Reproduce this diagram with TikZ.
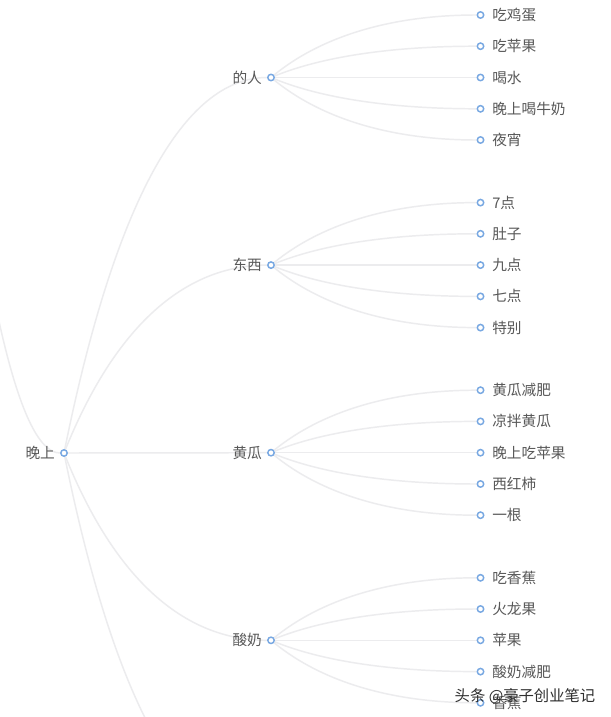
\documentclass[tikz,border=0pt]{standalone}
\usepackage{fontspec}
\setmainfont{Noto Sans CJK SC}
\usetikzlibrary{backgrounds}
\definecolor{linegray}{RGB}{236,236,238}
\definecolor{dotblue}{RGB}{120,168,226}
\definecolor{textgray}{RGB}{88,88,88}
\tikzset{every picture/.style={line width=0.75pt}}
\tikzset{
  dot/.style={circle,draw=dotblue,fill=white,line width=1.1pt,inner sep=0pt,minimum size=4.8pt},
  lab/.style={text=textgray,font=\fontsize{11pt}{13pt}\selectfont,inner sep=0pt},
  labl/.style={lab,xshift=-3.5pt},
  labr/.style={lab,xshift=5.5pt},
  edge/.style={draw=linegray,line width=1.1pt}
}
\begin{document}
\begin{tikzpicture}[x=0.75pt,y=0.75pt,yscale=-1]
\useasboundingbox (0,0) rectangle (610,717);

% root and its four branches
\node[dot,label={[labl]left:晚上}] (wanshang) at (64,453) {};
\node[dot,label={[labl]left:的人}] (deren) at (271,77.5) {};
\node[dot,label={[labl]left:东西}] (dongxi) at (271,265.1) {};
\node[dot,label={[labl]left:黄瓜}] (huanggua) at (271,452.7) {};
\node[dot,label={[labl]left:酸奶}] (suannai) at (271,640.3) {};
% off-page parent and fifth branch
\coordinate (up) at (-144,-1593);
\coordinate (next) at (271,828);

% leaves of 的人
\node[dot,label={[labr]right:吃鸡蛋}] (deren1) at (480.5,15) {};
\node[dot,label={[labr]right:吃苹果}] (deren2) at (480.5,46.2) {};
\node[dot,label={[labr]right:喝水}] (deren3) at (480.5,77.5) {};
\node[dot,label={[labr]right:晚上喝牛奶}] (deren4) at (480.5,108.8) {};
\node[dot,label={[labr]right:夜宵}] (deren5) at (480.5,140) {};
% leaves of 东西
\node[dot,label={[labr]right:7点}] (dongxi1) at (480.5,202.6) {};
\node[dot,label={[labr]right:肚子}] (dongxi2) at (480.5,233.8) {};
\node[dot,label={[labr]right:九点}] (dongxi3) at (480.5,265.1) {};
\node[dot,label={[labr]right:七点}] (dongxi4) at (480.5,296.4) {};
\node[dot,label={[labr]right:特别}] (dongxi5) at (480.5,327.6) {};
% leaves of 黄瓜
\node[dot,label={[labr]right:黄瓜减肥}] (huanggua1) at (480.5,390.2) {};
\node[dot,label={[labr]right:凉拌黄瓜}] (huanggua2) at (480.5,421.4) {};
\node[dot,label={[labr]right:晚上吃苹果}] (huanggua3) at (480.5,452.7) {};
\node[dot,label={[labr]right:西红柿}] (huanggua4) at (480.5,484) {};
\node[dot,label={[labr]right:一根}] (huanggua5) at (480.5,515.2) {};
% leaves of 酸奶
\node[dot,label={[labr]right:吃香蕉}] (suannai1) at (480.5,577.8) {};
\node[dot,label={[labr]right:火龙果}] (suannai2) at (480.5,609) {};
\node[dot,label={[labr]right:苹果}] (suannai3) at (480.5,640.3) {};
\node[dot,label={[labr]right:酸奶减肥}] (suannai4) at (480.5,671.6) {};
\node[dot,label={[labr]right:香蕉}] (suannai5) at (480.5,702.8) {};

% watermark
\node[font=\fontsize{11.5pt}{13pt}\selectfont,text=black!82,inner sep=0pt] (sign) at (525,696) {头条 @豪子创业笔记};

\begin{pgfonlayer}{background}
\fill[white] (0,0) rectangle (610,717);
\clip (0,0) rectangle (610,717);
% root edges
\draw[edge] (up) .. controls (-93.3,-229) and (-24,453) .. (wanshang);
\draw[edge] (wanshang) .. controls (114.7,202.7) and (183.7,77.5) .. (deren);
\draw[edge] (wanshang) .. controls (114.7,327.7) and (183.7,265.1) .. (dongxi);
\draw[edge] (wanshang) -- (huanggua);
\draw[edge] (wanshang) .. controls (114.7,578.5) and (183.7,640.3) .. (suannai);
\draw[edge] (wanshang) .. controls (114.7,703) and (183.7,828) .. (next);
% branch edges
\draw[edge] (deren) .. controls (322.3,35.8) and (392.2,15) .. (deren1);
\draw[edge] (deren) .. controls (322.3,56.6) and (392.2,46.2) .. (deren2);
\draw[edge] (deren) -- (deren3);
\draw[edge] (deren) .. controls (322.3,98.4) and (392.2,108.8) .. (deren4);
\draw[edge] (deren) .. controls (322.3,119.2) and (392.2,140) .. (deren5);
\draw[edge] (dongxi) .. controls (322.3,223.4) and (392.2,202.6) .. (dongxi1);
\draw[edge] (dongxi) .. controls (322.3,244.2) and (392.2,233.8) .. (dongxi2);
\draw[edge] (dongxi) -- (dongxi3);
\draw[edge] (dongxi) .. controls (322.3,286) and (392.2,296.4) .. (dongxi4);
\draw[edge] (dongxi) .. controls (322.3,306.8) and (392.2,327.6) .. (dongxi5);
\draw[edge] (huanggua) .. controls (322.3,411) and (392.2,390.2) .. (huanggua1);
\draw[edge] (huanggua) .. controls (322.3,431.8) and (392.2,421.4) .. (huanggua2);
\draw[edge] (huanggua) -- (huanggua3);
\draw[edge] (huanggua) .. controls (322.3,473.6) and (392.2,484) .. (huanggua4);
\draw[edge] (huanggua) .. controls (322.3,494.4) and (392.2,515.2) .. (huanggua5);
\draw[edge] (suannai) .. controls (322.3,598.6) and (392.2,577.8) .. (suannai1);
\draw[edge] (suannai) .. controls (322.3,619.4) and (392.2,609) .. (suannai2);
\draw[edge] (suannai) -- (suannai3);
\draw[edge] (suannai) .. controls (322.3,661.2) and (392.2,671.6) .. (suannai4);
\draw[edge] (suannai) .. controls (322.3,682) and (392.2,702.8) .. (suannai5);
\end{pgfonlayer}

\end{tikzpicture}
\end{document}
